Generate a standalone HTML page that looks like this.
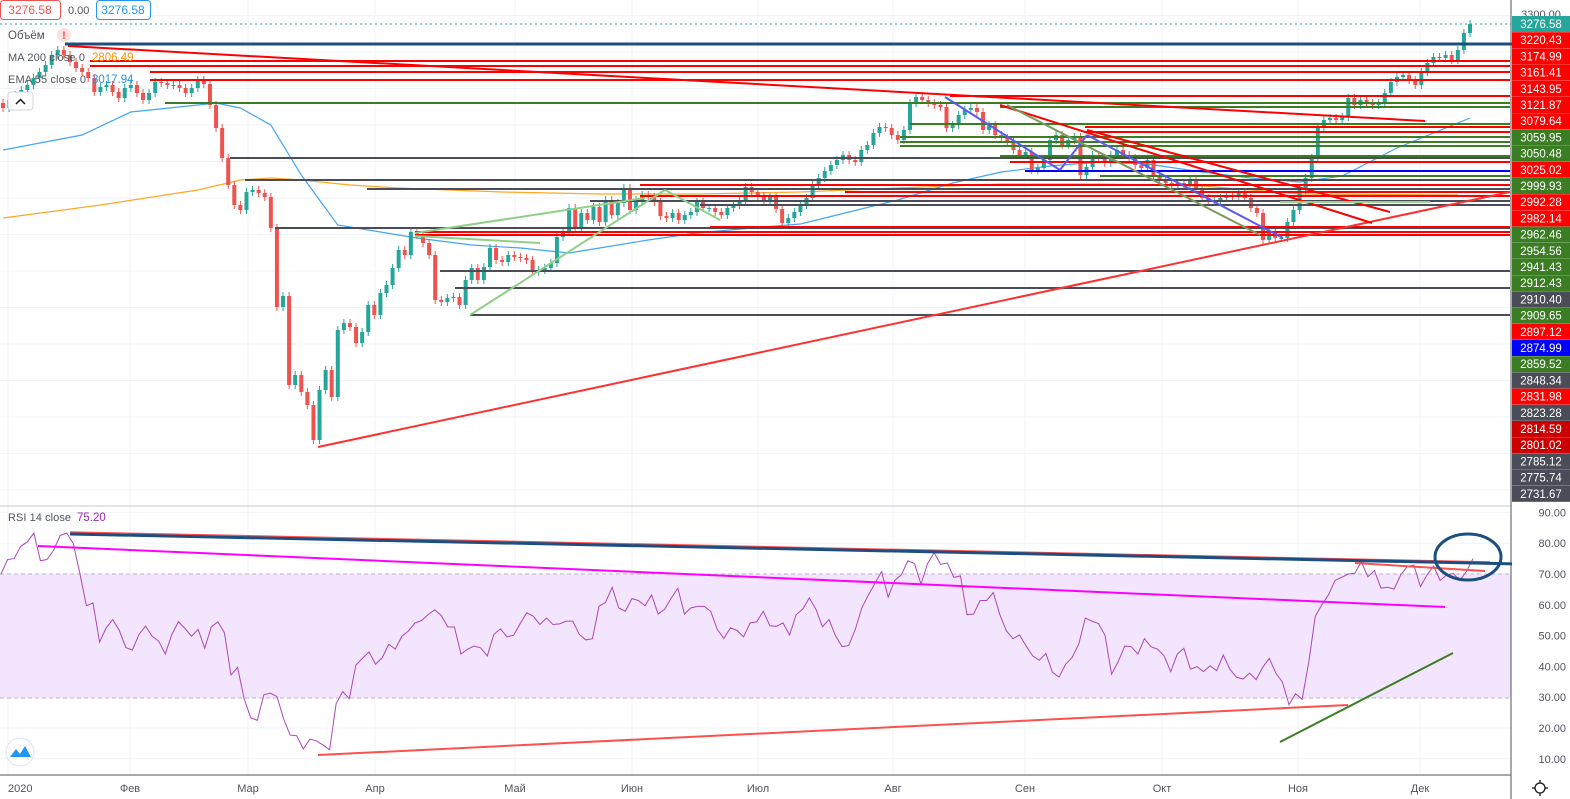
<!DOCTYPE html>
<html><head><meta charset="utf-8"><style>
body{margin:0;background:#fff;font-family:"Liberation Sans",sans-serif;}
svg{display:block}
text{font-family:"Liberation Sans","DejaVu Sans",sans-serif}
</style></head><body>
<svg id="c" width="1570" height="799" viewBox="0 0 1570 799" xmlns="http://www.w3.org/2000/svg">
<g id="grid"></g>
<rect x="0" y="574" width="1511" height="124" fill="#f3e5fd"/>
<line x1="0" y1="574" x2="1511" y2="574" stroke="#b8b8c0" stroke-dasharray="4,3"/>
<line x1="0" y1="698" x2="1511" y2="698" stroke="#b8b8c0" stroke-dasharray="4,3"/>
<g id="series"></g>
<g id="draw">
<line x1="0" y1="24" x2="1511" y2="24" stroke="#26a69a" stroke-dasharray="2,3" stroke-width="1"/>
<g stroke-width="2" fill="none">
<line x1="90" y1="61" x2="1510" y2="61" stroke="#ff0000"/>
<line x1="90" y1="66" x2="1510" y2="66" stroke="#ff0000"/>
<line x1="150" y1="72" x2="1510" y2="72" stroke="#ff0000"/>
<line x1="150" y1="80" x2="1510" y2="80" stroke="#ff0000"/>
<line x1="950" y1="96" x2="1510" y2="96" stroke="#ff0000"/>
<line x1="165" y1="103" x2="1510" y2="103" stroke="#3a7d23"/>
<line x1="1000" y1="107" x2="1510" y2="107" stroke="#3a7d23"/>
<line x1="910" y1="124" x2="1510" y2="124" stroke="#3a7d23"/>
<line x1="1085" y1="127" x2="1510" y2="127" stroke="#ff0000"/>
<line x1="1085" y1="132" x2="1510" y2="132" stroke="#ff0000"/>
<line x1="900" y1="137" x2="1510" y2="137" stroke="#3a7d23"/>
<line x1="900" y1="142" x2="1510" y2="142" stroke="#3a7d23"/>
<line x1="900" y1="146" x2="1510" y2="146" stroke="#3a7d23"/>
<line x1="230" y1="158" x2="1510" y2="158" stroke="#4a4c57"/>
<line x1="1000" y1="156" x2="1510" y2="156" stroke="#3a7d23"/>
<line x1="1010" y1="162" x2="1510" y2="162" stroke="#ff0000"/>
<line x1="1025" y1="171" x2="1510" y2="171" stroke="#0000ff"/>
<line x1="1100" y1="176" x2="1510" y2="176" stroke="#3a7d23"/>
<line x1="245" y1="180" x2="1510" y2="180" stroke="#4a4c57"/>
<line x1="640" y1="185" x2="1510" y2="185" stroke="#ff0000"/>
<line x1="367" y1="189" x2="1510" y2="189" stroke="#4a4c57"/>
<line x1="845" y1="192" x2="1510" y2="192" stroke="#ff0000"/>
<line x1="640" y1="196" x2="1510" y2="196" stroke="#ff0000"/>
<line x1="590" y1="201" x2="1510" y2="201" stroke="#4a4c57"/>
<line x1="700" y1="205" x2="1510" y2="205" stroke="#4a4c57"/>
<line x1="275" y1="228" x2="1510" y2="228" stroke="#4a4c57"/>
<line x1="710" y1="227" x2="1510" y2="227" stroke="#ff0000"/>
<line x1="415" y1="232" x2="1510" y2="232" stroke="#ff0000"/>
<line x1="415" y1="235" x2="1510" y2="235" stroke="#ff0000"/>
<line x1="440" y1="271" x2="1510" y2="271" stroke="#4a4c57"/>
<line x1="455" y1="288" x2="1510" y2="288" stroke="#4a4c57"/>
<line x1="470" y1="315" x2="1510" y2="315" stroke="#4a4c57"/>
<line x1="68" y1="46" x2="1425" y2="121" stroke="#ff0000"/>
<line x1="318" y1="447" x2="1510" y2="192" stroke="#ff3030"/>
<line x1="1000" y1="105" x2="1372" y2="223" stroke="#ff0000"/>
<line x1="1087" y1="130" x2="1390" y2="212" stroke="#ff0000"/>
<line x1="945" y1="97" x2="1060" y2="170" stroke="#5a5af0"/>
<line x1="1060" y1="170" x2="1087" y2="135" stroke="#5a5af0"/>
<line x1="1087" y1="135" x2="1283" y2="238" stroke="#5a5af0"/>
<line x1="1007" y1="105" x2="1260" y2="235" stroke="#7a9a5a"/>
<line x1="470" y1="315" x2="665" y2="190" stroke="#8fcf86"/>
<line x1="415" y1="233" x2="645" y2="198" stroke="#8fcf86"/>
<line x1="415" y1="236" x2="540" y2="243" stroke="#8fcf86"/>
<line x1="665" y1="190" x2="720" y2="220" stroke="#8fcf86"/>
<line x1="1280" y1="202" x2="1430" y2="202" stroke="#a0d090"/>
</g>
<line x1="65" y1="44" x2="1570" y2="44" stroke="#1c4e80" stroke-width="3"/>
<line x1="70" y1="532" x2="1490" y2="562" stroke="#ff5050" stroke-width="1.5"/>
<line x1="70" y1="534" x2="1570" y2="565" stroke="#1c4e80" stroke-width="3"/>
<line x1="38" y1="546" x2="1445" y2="607" stroke="#ff00ff" stroke-width="2"/>
<line x1="318" y1="755" x2="1348" y2="705" stroke="#ff5050" stroke-width="2"/>
<line x1="1355" y1="563" x2="1485" y2="571" stroke="#ff5050" stroke-width="2"/>
<line x1="1280" y1="742" x2="1453" y2="653" stroke="#3a7d23" stroke-width="2"/>
<ellipse cx="1468" cy="557" rx="33" ry="23" fill="none" stroke="#1c4e80" stroke-width="3"/>
</g>
<line x1="0" y1="506" x2="1570" y2="506" stroke="#c8cad0"/>
<line x1="1511" y1="0" x2="1511" y2="799" stroke="#50535e"/>
<line x1="0" y1="775" x2="1511" y2="775" stroke="#50535e"/>
<rect x="1512" y="0" width="58" height="775" fill="#fff"/>
<g id="axis"></g>
<g id="legend">
<rect x="0.5" y="0.5" width="60" height="19" rx="3" fill="#fff" stroke="#ef5350"/>
<text x="30" y="14" font-size="12" fill="#ef5350" text-anchor="middle">3276.58</text>
<text x="68" y="14" font-size="11" fill="#50535e">0.00</text>
<rect x="96.5" y="0.5" width="54" height="19" rx="3" fill="#fff" stroke="#2196f3"/>
<text x="123" y="14" font-size="12" fill="#2196f3" text-anchor="middle">3276.58</text>
<text x="8" y="39" font-size="11.5" fill="#50535e">Объём</text>
<circle cx="64" cy="35" r="7" fill="#fde0e0"/>
<text x="64" y="39" font-size="11" fill="#ef5350" text-anchor="middle" font-weight="bold">!</text>
<text x="8" y="61" font-size="11" fill="#50535e" textLength="77">MA 200 close 0</text>
<text x="92" y="61" font-size="11.5" fill="#ff9800">2806.49</text>
<text x="8" y="83" font-size="11" fill="#50535e" textLength="78">EMA 55 close 0</text>
<text x="92" y="83" font-size="11.5" fill="#2196f3">3017.94</text>
<rect x="8" y="92" width="25" height="18" rx="3" fill="#fff" stroke="#d0d3da"/>
<path d="M16 104 L20.5 99.5 L25 104" fill="none" stroke="#131722" stroke-width="1.5"/>
<text x="8" y="521" font-size="11" fill="#50535e" textLength="63">RSI 14 close</text>
<text x="77" y="521" font-size="11.5" fill="#9c27b0">75.20</text>
<circle cx="20" cy="752" r="14" fill="#fff" stroke="#e0e3eb"/>
<path d="M10 757 L16 749 L20 754 L25 746 L31 757 Z" fill="#2196f3"/>
<g><circle cx="1540" cy="788" r="5" fill="none" stroke="#131722" stroke-width="1.3"/><path d="M1540 780v3M1540 793v3M1532 788h3M1545 788h3" stroke="#131722" stroke-width="1.3"/></g>
</g>
</svg>
<script>
const closes = [3108,3124,3134,3144,3154,3168,3180,3194,3214,3224,3214,3200,3188,3180,3168,
3140,3150,3154,3140,3128,3148,3154,3138,3124,3138,3160,3158,3154,3154,3148,3138,3148,3164,3156,3114,3068,3008,2954,
2914,2904,2940,2944,2938,2930,2868,2710,2732,2554,2574,2540,2514,2444,2544,2584,2530,2664,2678,2670,2638,2660,2714,
2694,2738,2754,2788,2824,2814,2860,2854,2838,2814,2724,2720,2728,2730,2714,2764,2788,2764,2790,2828,
2804,2800,2814,2810,2808,2804,2780,2784,2788,2798,2850,2860,2908,2868,2898,2884,2910,2880,2924,2894,2918,
2948,2904,2924,2934,2930,2920,2892,2888,2898,2884,2894,2900,2920,2908,2908,2900,2894,2908,2914,2922,2950,
2940,2932,2924,2930,2906,2878,2888,2900,2914,2928,2954,2968,2982,2994,3004,3014,3004,3000,3024,3034,3058,
3070,3068,3054,3044,3064,3118,3130,3124,3118,3114,3110,3068,3074,3094,3104,3108,3100,3064,3074,3054,3048,
3040,3024,3014,3020,2984,2988,3004,3044,3054,3034,3044,3050,2974,2990,3014,3008,2998,3014,3024,3014,3008,
2994,2988,3004,2974,2964,2958,2954,2958,2954,2964,2944,2928,2924,2924,2928,2934,2930,2940,2928,2908,2898,2844,
2860,2848,2848,2880,2904,2944,2968,3008,3068,3084,3088,3084,3090,3128,3114,3124,3118,3114,3118,3138,3160,
3170,3174,3164,3154,3180,3198,3210,3208,3214,3204,3224,3258,3276];
const emaBars = [0,13,21,32,35,39,44,49,52,55,62,68,77,85,93,98,106,114,123,131,139,147,156,164,172,180,188,197,205,213,220,229,241];
const emaVals = [3024,3054,3100,3114,3118,3108,3074,2974,2924,2874,2860,2848,2834,2828,2818,2828,2844,2858,2868,2876,2900,2924,2958,2980,2992,3000,2996,2980,2968,2960,2972,3028,3088];
const maBars = [0,16,32,39,44,49,57,65,82,98,114,131,147,164,180,197,213,239];
const maVals = [2888,2914,2944,2964,2968,2964,2954,2948,2940,2936,2936,2940,2948,2956,2956,2952,2936,2934];
const rsiVals = [70,74.7,75,79,80.4,83.3,74.3,74.7,77.7,82.5,83.3,79.9,70.2,59.7,60.6,47.9,52.5,55.2,51.7,46.1,45.3,50.4,53.1,49.8,48.2,44,50.4,54.5,52.3,49.8,52,45.9,52.8,54.5,50.9,37.2,39.7,29.5,23.3,22.5,30.8,31.3,30.2,23,17.7,17.5,13.2,16.4,15.8,14.5,12.9,27.9,31.8,29.5,40.4,42.6,44.7,40.7,42.8,47.2,45.6,49.8,51.5,54.1,54.9,56.8,58.4,56.5,52.8,52.8,44,45.6,46.6,46,43.4,50.4,52.2,49.6,50.1,53.9,57.4,56.3,53.6,55.7,53.6,53.8,54.7,54.7,50.4,48.6,49,59.5,60.8,65.7,59,57.9,62,61.4,59.7,63.2,57,58.6,62.2,65.4,57,59,59.5,59.5,57.9,52,49.1,52.5,51.7,49.6,54.1,54.5,57.9,53.2,53,54.1,50.2,56.8,
58.6,62.2,58.6,52.9,55.2,49.9,46.4,46.8,52,59,63.2,67,70.8,62.5,67.9,69.7,74.3,73.4,66.7,73.4,76.9,73.1,73.6,68.9,69.4,56.8,57,61.4,61.4,64,56.8,51.5,49,50.2,46.6,43.4,42,44.2,38.1,36.5,40.7,42.9,47.2,55.7,54.7,53.9,50.1,37.5,41.5,46.6,46.4,44,49,46.4,45.6,43.4,38.3,44,45.9,39.1,39.9,38.3,40.2,38.6,43.7,39.1,36.5,35.9,37.8,35.7,39.7,42.6,37.8,34.9,27.6,31.1,29.3,41.3,56.3,60,63.2,67.9,68.9,70,70.2,74,69.1,71.1,65.4,65.7,65.1,69.7,72.4,72.9,65.9,69.7,72.6,67.9,69.7,70.2,67.9,70.8,75];
const monthLabels = ["2020","Фев","Мар","Апр","Май","Июн","Июл","Авг","Сен","Окт","Ноя","Дек"];
const rsiTicks = [90,80,70,60,50,40,30,20,10];
const priceLabels = ["3276.58","3220.43","3174.99","3161.41","3143.95","3121.87","3079.64","3059.95","3050.48","3025.02","2999.93","2992.28","2982.14","2962.46","2954.56","2941.43","2912.43","2910.40","2909.65","2897.12","2874.99","2859.52","2848.34","2831.98","2823.28","2814.59","2801.02","2785.12","2775.74","2731.67"];
const priceLabelKinds = ["last","r","r","r","r","r","r","g","g","r","g","r","r","g","g","g","g","k","g","r","b","g","k","r","k","d","d","k","k","k"];
const NS="http://www.w3.org/2000/svg";
const X0=3, X1=1470;
const xBar = i => X0 + i*(X1-X0)/(closes.length-1);
const yP = p => (3324 - p)/2;
const xRsi = i => 1 + i*(1473-1)/(rsiVals.length-1);
const yR = v => 574 + (70 - v)*3.08;
const monthX = [8,130,248,375,515,632,758,893,1025,1162,1298,1420];
function mk(tag, attrs, parent){const e=document.createElementNS(NS,tag);for(const k in attrs)e.setAttribute(k,attrs[k]);parent.appendChild(e);return e;}
const grid=document.getElementById('grid'), ser=document.getElementById('series'), ax=document.getElementById('axis');
for(let k=0;k<14;k++){const l=mk('line',{x1:0,x2:1511,y1:15.5+36.5*k,y2:15.5+36.5*k,stroke:'#f0f3fa'},grid);

}
monthX.forEach((x,i)=>{const l=mk('line',{x1:x,x2:x,y1:0,y2:775,stroke:'#f0f3fa'},grid);


const t=mk('text',{x:x,y:792,'font-size':11,fill:'#50535e','text-anchor':i?'middle':'start'},ax);t.textContent=monthLabels[i];

});
rsiTicks.forEach(v=>{const l=mk('line',{x1:0,x2:1511,y1:yR(v),y2:yR(v),stroke:'#f0f3fa'},grid);


const t=mk('text',{x:1566,y:yR(v)+4,'font-size':11,fill:'#50535e','text-anchor':'end'},ax);t.textContent=v.toFixed(2);

});
function poly(bars,vals,color,name){const pts=bars.map((b,i)=>xBar(b)+','+yP(vals[i])).join(' ');
const p=mk('polyline',{points:pts,fill:'none',stroke:color,'stroke-width':1.2},ser);

}
poly(maBars,maVals,'#ffa726','ma200-line');
poly(emaBars,emaVals,'#42a5f5','ema55-line');
closes.forEach((c,i)=>{const o=i?closes[i-1]:c+10;const up=c>=o;const col=up?'#26a69a':'#ef5350';const x=xBar(i);
const hi=Math.max(o,c)+8, lo=Math.min(o,c)-8;
const g=mk('g',{},ser);


mk('line',{x1:x,x2:x,y1:yP(hi),y2:yP(lo),stroke:col,'stroke-width':1},g);
const top=yP(Math.max(o,c)),h=Math.max(1,yP(Math.min(o,c))-top);
mk('rect',{x:x-2,y:top,width:4,height:h,fill:col},g);});
const rp=mk('polyline',{points:rsiVals.map((v,i)=>xRsi(i)+','+yR(v)).join(' '),fill:'none',stroke:'#ab47bc','stroke-width':1},ser);


const kindCol={last:'#26a69a',r:'#ff0000',g:'#3a7d23',k:'#4a4c57',b:'#0000ff',d:'#cc0000'};
const t0=mk('text',{x:1541,y:18,'font-size':11,fill:'#50535e','text-anchor':'middle'},ax);t0.textContent='3300.00';


priceLabels.forEach((s,k)=>{const yc=24+16.2*k;const g=mk('g',{},ax);


mk('rect',{x:1512,y:yc-8,width:58,height:16,fill:kindCol[priceLabelKinds[k]]},g);
const t=mk('text',{x:1541,y:yc+4,'font-size':11.5,fill:'#fff','text-anchor':'middle'},g);t.textContent=s;});
</script>
</body></html>
